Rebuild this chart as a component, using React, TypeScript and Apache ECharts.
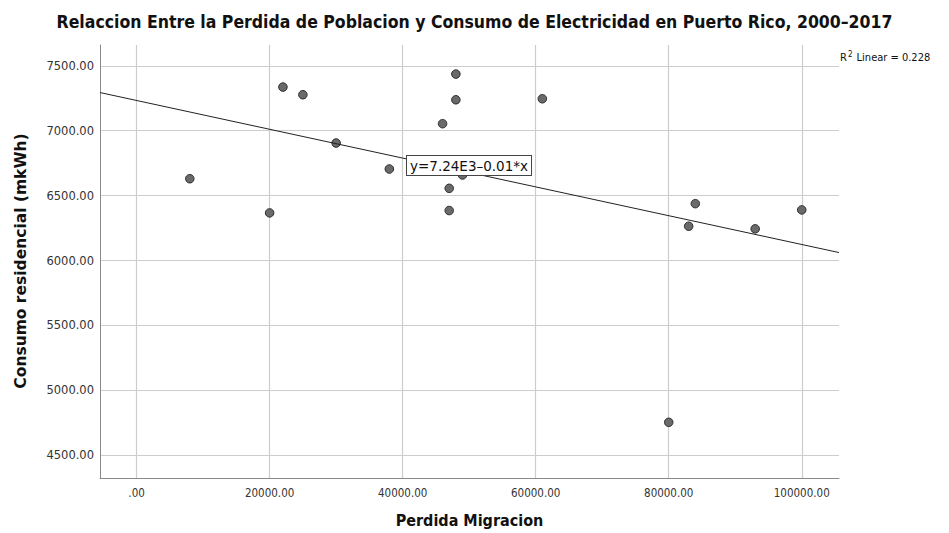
import React, { useEffect, useRef } from "react";
import * as echarts from "echarts";

// Data (x: Perdida Migracion, y: Consumo residencial)
const migracion = [8000, 20000, 22000, 25000, 30000, 38000, 46000, 47000, 47000, 48000, 48000, 49000, 61000, 80000, 83000, 84000, 93000, 100000];
const consumo = [6630, 6367, 7336, 7277, 6905, 6705, 7054, 6556, 6385, 7436, 7238, 6659, 7246, 4754, 6264, 6438, 6244, 6390];

const xTicks = [0, 20000, 40000, 60000, 80000, 100000];
const yTicks = [4500, 5000, 5500, 6000, 6500, 7000, 7500];

const X_MIN = -5500;
const X_MAX = 105600;
const Y_MIN = 4325;
const Y_MAX = 7660;

const TITLE = "Relaccion Entre la Perdida de Poblacion y Consumo de Electricidad en Puerto Rico, 2000–2017";
const X_NAME = "Perdida Migracion";
const Y_NAME = "Consumo residencial (mkWh)";
const EQUATION = "y=7.24E3–0.01*x";

function regression(xs: number[], ys: number[]) {
  const n = xs.length;
  const mx = xs.reduce((a, b) => a + b, 0) / n;
  const my = ys.reduce((a, b) => a + b, 0) / n;
  let sxy = 0, sxx = 0, syy = 0;
  for (let i = 0; i < n; i++) {
    sxy += (xs[i] - mx) * (ys[i] - my);
    sxx += (xs[i] - mx) ** 2;
    syy += (ys[i] - my) ** 2;
  }
  const slope = sxy / sxx;
  const intercept = my - slope * mx;
  const r2 = (sxy * sxy) / (sxx * syy);
  return { slope, intercept, r2 };
}

const fmtTick = (v: number) => (v === 0 ? ".00" : v.toFixed(2));

export default function App() {
  const ref = useRef<HTMLDivElement>(null);
  useEffect(() => {
    if (!ref.current) return;
    const chart = echarts.init(ref.current, undefined, { renderer: "svg" });
    const { slope, intercept, r2 } = regression(migracion, consumo);
    const fit = (x: number) => intercept + slope * x;
    const condensed = "'DejaVu Sans Condensed', 'DejaVu Sans', sans-serif";
    const tickFont = "'DejaVu Sans', sans-serif";
    chart.setOption({
      animation: false,
      backgroundColor: "#ffffff",
      title: {
        text: TITLE,
        left: "center",
        top: 8,
        textStyle: { fontFamily: condensed, fontWeight: "bold", fontSize: 17.5, color: "#111" },
      },
      grid: { left: 100, right: 110, top: 45, bottom: 54, containLabel: false },
      xAxis: {
        type: "value",
        min: X_MIN,
        max: X_MAX,
        name: X_NAME,
        nameLocation: "middle",
        nameGap: 34,
        nameTextStyle: { fontFamily: condensed, fontWeight: "bold", fontSize: 16, color: "#111" },
        axisLine: { show: true, onZero: false, lineStyle: { color: "#8a8a8a", width: 1 } },
        axisTick: { show: false, customValues: xTicks },
        axisLabel: {
          customValues: xTicks,
          formatter: fmtTick,
          fontFamily: condensed,
          fontSize: 11.5,
          color: "#333",
          margin: 9,
        },
        splitLine: { show: true, lineStyle: { color: "#cdcdcd", width: 1.2 } },
      },
      yAxis: {
        type: "value",
        min: Y_MIN,
        max: Y_MAX,
        axisLine: { show: true, onZero: false, lineStyle: { color: "#8a8a8a", width: 1 } },
        axisTick: { show: false, customValues: yTicks },
        axisLabel: {
          customValues: yTicks,
          formatter: fmtTick,
          fontFamily: tickFont,
          fontSize: 11.5,
          color: "#333",
          margin: 6,
        },
        splitLine: { show: true, lineStyle: { color: "#cdcdcd", width: 1.2 } },
      },
      series: [
        {
          type: "scatter",
          data: migracion.map((x, i) => [x, consumo[i]]),
          symbolSize: 8.5,
          itemStyle: { color: "#6a6a6a", borderColor: "#2a2a2a", borderWidth: 1, opacity: 1 },
          z: 2,
        },
        {
          type: "line",
          data: [
            [X_MIN, fit(X_MIN)],
            [X_MAX, fit(X_MAX)],
          ],
          symbol: "none",
          silent: true,
          lineStyle: { color: "#222", width: 1 },
          z: 3,
        },
      ],
      graphic: [
        {
          type: "text",
          x: 21,
          y: 261,
          rotation: Math.PI / 2,
          z: 10,
          style: {
            text: Y_NAME,
            font: "bold 15.5px 'DejaVu Sans', sans-serif",
            fill: "#111",
            align: "center",
            verticalAlign: "middle",
          },
        },
        {
          type: "text",
          left: 406,
          top: 155,
          z: 10,
          style: {
            text: EQUATION,
            font: "13.5px 'DejaVu Sans', sans-serif",
            fill: "#111",
            backgroundColor: "#fff",
            borderColor: "#444",
            borderWidth: 1,
            padding: [3, 3, 2, 3],
          },
        },
        {
          type: "text",
          left: 840,
          top: 50,
          z: 10,
          style: {
            text: "{a|R}{s|2}{a| Linear = " + r2.toFixed(3) + "}",
            rich: {
              a: { fontFamily: condensed, fontSize: 11, fill: "#111", verticalAlign: "bottom" },
              s: { fontFamily: condensed, fontSize: 8, fill: "#111", verticalAlign: "top", padding: [0, 1, 5, 1] },
            },
          },
        },
      ],
    });
    return () => chart.dispose();
  }, []);
  return (
    <div
      ref={ref}
      style={{ position: "fixed", left: 0, top: 0, width: 949, height: 533, background: "#fff" }}
    />
  );
}
